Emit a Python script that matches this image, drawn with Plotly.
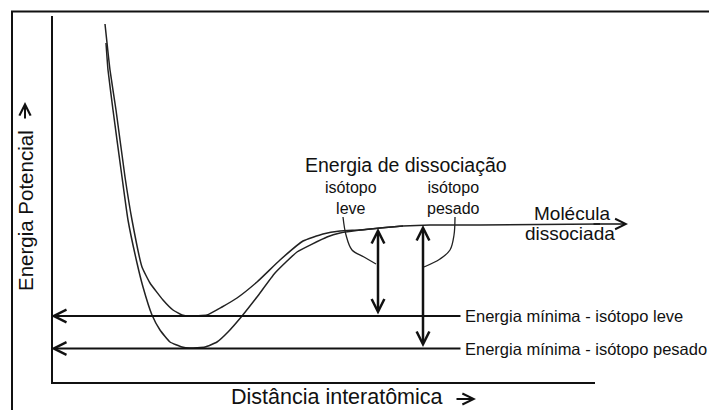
import plotly.graph_objects as go

# potential energy curves (distance r, energy E, arbitrary units)
r_leve = [53, 58, 64, 73, 80, 90, 98, 111, 121, 130, 138, 155, 170, 185, 205, 228, 251, 271, 288, 308, 328, 351, 378, 428, 548]
e_leve = [359, 313, 273, 206, 163, 116, 100, 83, 73, 68, 67, 68, 76, 85, 101, 123, 142, 149, 152, 153, 155, 157, 158, 158, 159]
r_pesado = [54, 56, 61, 70, 76, 85, 91, 100, 108, 118, 130, 138, 153, 165, 176, 190, 205, 223, 245, 275, 288, 308, 328, 351]
e_pesado = [340, 313, 273, 206, 163, 120, 96, 68, 53, 41, 36, 35, 36, 41, 51, 67, 86, 110, 131, 146, 150, 153, 155, 157]

# minimum energies and dissociation level
e_min_leve = 67
e_min_pesado = 34.5
e_diss_leve = 155
e_diss_pesado = 158
r_arrow_leve = 326
r_arrow_pesado = 371
r_min_lines_end = 410
r_diss_end = 576

# curly labels pointing to the dissociation arrows
brace_leve_r = [291, 294, 300, 312, 324]
brace_leve_e = [166, 148, 133, 126, 119]
brace_pesado_r = [403, 402, 398, 388, 372]
brace_pesado_e = [166, 148, 133, 124, 116]

FONT = "Liberation Sans, Arial, sans-serif"
INK = "#111111"

fig = go.Figure()

fig.add_trace(go.Scatter(x=r_leve, y=e_leve, mode="lines",
                         line=dict(color="#222", width=1.5, shape="spline", smoothing=0.4)))
fig.add_trace(go.Scatter(x=r_pesado, y=e_pesado, mode="lines",
                         line=dict(color="#222", width=1.5, shape="spline", smoothing=0.4)))
for br, be in [(brace_leve_r, brace_leve_e), (brace_pesado_r, brace_pesado_e)]:
    fig.add_trace(go.Scatter(x=br, y=be, mode="lines",
                             line=dict(color="#222", width=1.3, shape="spline")))

# axes (L shape) and outer frame
fig.add_shape(type="path", path="M 0 367 L 0 0 L 543 0",
              line=dict(color=INK, width=2))
fig.add_shape(type="rect", x0=-40, y0=371.5, x1=700, y1=-60,
              line=dict(color=INK, width=2))

arrow_common = dict(text="", showarrow=True, xref="x", yref="y", axref="x", ayref="y",
                    arrowcolor=INK)

# horizontal minimum-energy lines pointing left
for e in [e_min_leve, e_min_pesado]:
    fig.add_annotation(x=-1, y=e, ax=r_min_lines_end, ay=e,
                       arrowhead=5, arrowsize=1.25, arrowwidth=2, **arrow_common)

# vertical dissociation energy arrows
for r, e0, e1 in [(r_arrow_leve, e_min_leve, e_diss_leve),
                  (r_arrow_pesado, e_min_pesado, e_diss_pesado)]:
    fig.add_annotation(x=r, y=e1, ax=r, ay=e0, arrowside="end+start",
                       arrowhead=5, startarrowhead=5, arrowsize=1.0, startarrowsize=1.0,
                       arrowwidth=2.5, **arrow_common)

# dissociated molecule arrow
fig.add_annotation(x=r_diss_end, y=159, ax=540, ay=159,
                   arrowhead=5, arrowsize=1.3, arrowwidth=1.6, **arrow_common)

# axis title arrows
fig.add_annotation(x=424, y=-16, ax=403, ay=-16,
                   arrowhead=5, arrowsize=1.1, arrowwidth=2, **arrow_common)
fig.add_annotation(x=-27, y=281, ax=-27, ay=263,
                   arrowhead=5, arrowsize=1.1, arrowwidth=2, **arrow_common)


def label(text, x, y, size, xanchor="center", **kw):
    fig.add_annotation(text=text, x=x, y=y, xref="x", yref="y", showarrow=False,
                       xanchor=xanchor, yanchor="middle",
                       font=dict(family=FONT, size=size, color=INK), **kw)


label("Energia mínima - isótopo leve", 411, e_min_leve, 16.5, xanchor="left")
label("Energia mínima - isótopo pesado", 411, e_min_pesado, 16.5, xanchor="left")
label("Energia de dissociação", 354, 218, 19.5)
label("isótopo<br>leve", 299, 185, 16)
label("isótopo<br>pesado", 401, 185, 16)
label("Molécula", 520, 170, 19)
label("dissociada", 518, 150, 19)
label("Distância interatômica", 285, -14, 21.5)
label("Energia Potencial", -27, 172, 20.5, textangle=-90)

fig.update_layout(
    width=709, height=410,
    margin=dict(l=0, r=0, t=0, b=0),
    paper_bgcolor="white", plot_bgcolor="white",
    showlegend=False,
    xaxis=dict(range=[-52, 657], visible=False, fixedrange=True),
    yaxis=dict(range=[-27, 383], visible=False, fixedrange=True),
)

fig.write_html("out.html", config={"displayModeBar": False},
               post_script="document.body.style.margin='0';")
